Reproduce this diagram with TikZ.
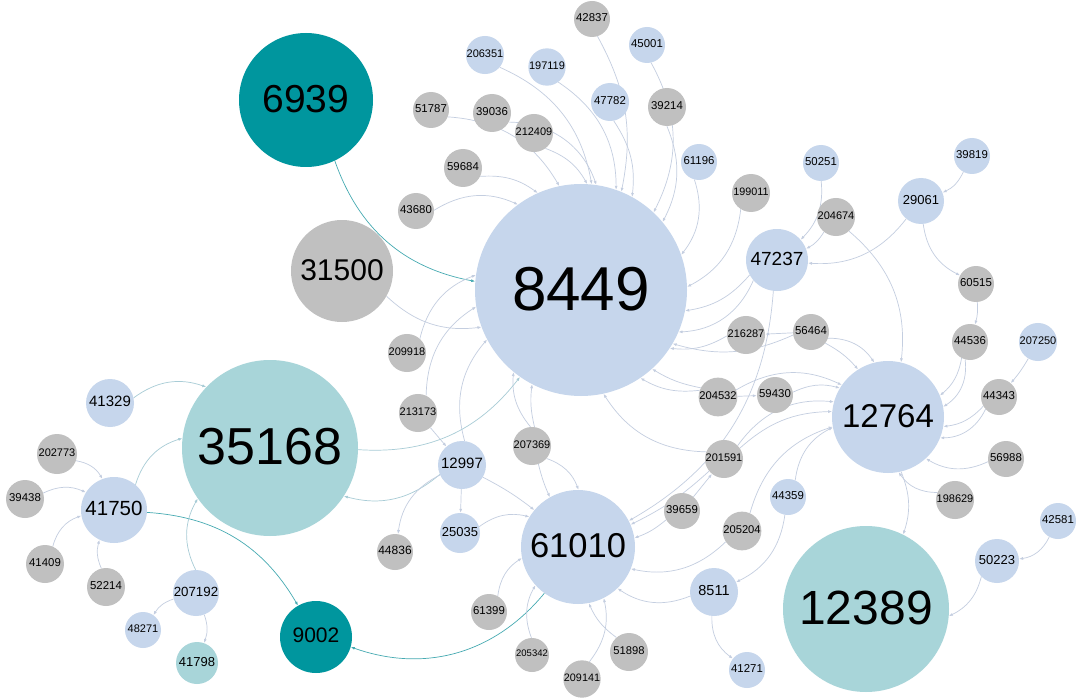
\documentclass[tikz,border=0pt]{standalone}
\usepackage{fontspec}
\setmainfont{Liberation Sans}
\usetikzlibrary{arrows.meta,backgrounds}
\newcommand\nfs[1]{\fontsize{#1}{#1}\selectfont}
\definecolor{cb}{RGB}{198,214,236}
\definecolor{cg}{RGB}{192,192,192}
\definecolor{clt}{RGB}{168,213,217}
\definecolor{cdt}{RGB}{0,150,158}
\definecolor{ec}{RGB}{196,206,224}
\definecolor{et}{RGB}{70,170,178}
\definecolor{el}{RGB}{168,204,214}
\tikzset{
  base/.style={circle, inner sep=0pt, text=black, text depth=0.28em, font=\nfs{11.4}},
  nB/.style={base, fill=cb},
  nG/.style={base, fill=cg},
  nLT/.style={base, fill=clt},
  nDT/.style={base, fill=cdt},
  ed/.style={draw=ec, line width=0.7pt, -{Latex[length=4pt,width=3pt]}},
  edt/.style={ed, draw=et},
  edl/.style={ed, draw=el},
}
\begin{document}
\begin{tikzpicture}[x=1pt,y=1pt]
\useasboundingbox (0,0) rectangle (1077,-698);
\node[nB, minimum size=212pt, font=\nfs{62}] (n8449) at (581,-290) {8449};
\node[nDT, minimum size=134pt, font=\nfs{39}] (n6939) at (306,-100) {6939};
\node[nG, minimum size=102pt, font=\nfs{30}] (n31500) at (342,-271) {31500};
\node[nLT, minimum size=176pt, font=\nfs{52}] (n35168) at (270,-448) {35168};
\node[nB, minimum size=66pt, font=\nfs{20.5}] (n41750) at (114,-510) {41750};
\node[nB, minimum size=48pt, font=\nfs{15}] (n41329) at (110,-403) {41329};
\node[nG, minimum size=40pt, font=\nfs{11}] (n202773) at (57,-454) {202773};
\node[nG, minimum size=38pt] (n39438) at (25,-499) {39438};
\node[nG, minimum size=38pt] (n41409) at (45,-564) {41409};
\node[nG, minimum size=38pt] (n52214) at (106,-587) {52214};
\node[nB, minimum size=44pt, font=\nfs{13.3}] (n207192) at (196,-593) {207192};
\node[nB, minimum size=36pt, font=\nfs{11}] (n48271) at (143,-630) {48271};
\node[nLT, minimum size=42pt, font=\nfs{13}] (n41798) at (197,-663) {41798};
\node[nDT, minimum size=72pt, font=\nfs{21}] (n9002) at (316,-637) {9002};
\node[nG, minimum size=38pt, font=\nfs{11}] (n213173) at (418,-413) {213173};
\node[nB, minimum size=48pt, font=\nfs{15}] (n12997) at (462,-465) {12997};
\node[nG, minimum size=38pt, font=\nfs{11}] (n207369) at (532,-446) {207369};
\node[nB, minimum size=40pt, font=\nfs{13}] (n25035) at (460,-533) {25035};
\node[nG, minimum size=36pt, font=\nfs{12}] (n44836) at (395,-552) {44836};
\node[nB, minimum size=114pt, font=\nfs{34.5}] (n61010) at (578,-547) {61010};
\node[nG, minimum size=36pt] (n39659) at (682,-511) {39659};
\node[nG, minimum size=36pt] (n61399) at (489,-612) {61399};
\node[nG, minimum size=34pt, font=\nfs{9.5}] (n205342) at (532,-655) {205342};
\node[nG, minimum size=36pt, font=\nfs{10.8}] (n209141) at (582,-679) {209141};
\node[nG, minimum size=38pt, font=\nfs{11.2}] (n51898) at (629,-652) {51898};
\node[nB, minimum size=48pt, font=\nfs{14.5}] (n8511) at (714,-592) {8511};
\node[nB, minimum size=36pt] (n41271) at (747,-670) {41271};
\node[nG, minimum size=36pt] (n42837) at (592,-19) {42837};
\node[nB, minimum size=38pt, font=\nfs{11}] (n206351) at (485,-55) {206351};
\node[nB, minimum size=36pt, font=\nfs{11}] (n197119) at (547,-67) {197119};
\node[nB, minimum size=36pt] (n45001) at (647,-45) {45001};
\node[nB, minimum size=38pt] (n47782) at (610,-102) {47782};
\node[nG, minimum size=38pt] (n39214) at (667,-107) {39214};
\node[nG, minimum size=36pt] (n51787) at (431,-110) {51787};
\node[nG, minimum size=38pt] (n39036) at (492,-113) {39036};
\node[nG, minimum size=38pt, font=\nfs{11}] (n212409) at (534,-133) {212409};
\node[nG, minimum size=38pt] (n59684) at (463,-168) {59684};
\node[nB, minimum size=36pt] (n61196) at (699,-162) {61196};
\node[nG, minimum size=36pt] (n43680) at (416,-211) {43680};
\node[nG, minimum size=38pt, font=\nfs{11}] (n209918) at (407,-353) {209918};
\node[nB, minimum size=36pt] (n50251) at (821,-163) {50251};
\node[nG, minimum size=38pt, font=\nfs{10.8}] (n199011) at (751,-193) {199011};
\node[nB, minimum size=36pt] (n39819) at (972,-156) {39819};
\node[nB, minimum size=46pt, font=\nfs{13}] (n29061) at (921,-201) {29061};
\node[nG, minimum size=36pt, font=\nfs{11}] (n204674) at (836,-217) {204674};
\node[nB, minimum size=62pt, font=\nfs{19}] (n47237) at (777,-260) {47237};
\node[nG, minimum size=36pt] (n60515) at (976,-284) {60515};
\node[nG, minimum size=36pt, font=\nfs{11}] (n216287) at (746,-335) {216287};
\node[nG, minimum size=36pt] (n56464) at (811,-332) {56464};
\node[nG, minimum size=36pt] (n44536) at (970,-342) {44536};
\node[nB, minimum size=36pt, font=\nfs{11}] (n207250) at (1038,-342) {207250};
\node[nG, minimum size=38pt, font=\nfs{11.2}] (n204532) at (718,-397) {204532};
\node[nG, minimum size=36pt] (n59430) at (775,-395) {59430};
\node[nB, minimum size=112pt, font=\nfs{33}] (n12764) at (888,-417) {12764};
\node[nG, minimum size=36pt] (n44343) at (999,-397) {44343};
\node[nG, minimum size=38pt, font=\nfs{11}] (n201591) at (724,-459) {201591};
\node[nG, minimum size=36pt] (n56988) at (1006,-459) {56988};
\node[nB, minimum size=36pt] (n44359) at (788,-497) {44359};
\node[nG, minimum size=36pt, font=\nfs{11}] (n198629) at (955,-500) {198629};
\node[nG, minimum size=38pt, font=\nfs{11.2}] (n205204) at (742,-531) {205204};
\node[nLT, minimum size=166pt, font=\nfs{48}] (n12389) at (866,-609) {12389};
\node[nB, minimum size=44pt, font=\nfs{13}] (n50223) at (997,-561) {50223};
\node[nB, minimum size=36pt] (n42581) at (1058,-521) {42581};

\begin{scope}[on background layer]
\fill[white] (0,0) rectangle (1077,-698);
\draw[edt] (n6939) to[bend right=30] (n8449);
\draw[ed] (n31500) to[bend right=25] (n8449);
\draw[ed] (n43680) to[bend left=28] (n8449);
\draw[ed] (n59684) to[bend left=20] (n8449);
\draw[ed] (n51787) to[bend left=28] (n8449);
\draw[ed] (n39036) to[bend left=35] (n8449);
\draw[ed] (n212409) to[bend left=20] (n8449);
\draw[ed] (n206351) to[bend left=28] (n8449);
\draw[ed] (n197119) to[bend left=28] (n8449);
\draw[ed] (n42837) to[bend left=20] (n8449);
\draw[ed] (n47782) to[bend left=20] (n8449);
\draw[ed] (n45001) to[bend left=28] (n8449);
\draw[ed] (n39214) to[bend left=25] (n8449);
\draw[ed] (n61196) to[bend left=28] (n8449);
\draw[ed] (n199011) to[bend left=28] (n8449);
\draw[ed] (n47237) to[bend left=20] (n8449);
\draw[ed] (n47237) to[bend left=32] (n8449);
\draw[ed] (n50251) to[bend left=25] (n47237);
\draw[ed] (n204674) to[bend left=15] (n47237);
\draw[ed] (n204674) to[bend left=28] (n12764);
\draw[ed] (n29061) to[bend left=28] (n47237);
\draw[ed] (n39819) to[bend left=20] (n29061);
\draw[ed] (n29061) to[bend right=28] (n60515);
\draw[ed] (n60515) to[bend left=10] (n44536);
\draw[ed] (n44536) to[bend left=20] (n12764);
\draw[ed] (n44536) to[bend left=32] (n12764);
\draw[ed] (n207250) to[bend left=5] (n44343);
\draw[ed] (n44343) to[bend left=20] (n12764);
\draw[ed] (n44343) to[bend left=32] (n12764);
\draw[ed] (n56988) to[bend left=28] (n12764);
\draw[ed] (n198629) to[bend left=28] (n12764);
\draw[ed] (n12764) to[bend left=20] (n12389);
\draw[ed] (n50223) to[bend left=25] (n12389);
\draw[ed] (n42581) to[bend left=28] (n50223);
\draw[ed] (n56464) to[bend left=28] (n12764);
\draw[ed] (n56464) to[bend left=10] (n12764);
\draw[ed] (n56464) to (n216287);
\draw[ed] (n216287) to[bend left=18] (n8449);
\draw[ed] (n56464) to[bend left=20] (n8449);
\draw[ed] (n204532) to[bend left=10] (n8449);
\draw[ed] (n204532) to[bend left=18] (n8449);
\draw[ed] (n204532) to[bend left=28] (n12764);
\draw[ed] (n204532) to (n59430);
\draw[ed] (n59430) to[bend left=20] (n12764);
\draw[ed] (n201591) to[bend left=28] (n8449);
\draw[ed] (n201591) to[bend left=20] (n12764);
\draw[ed] (n201591) to[bend left=30] (n12764);
\draw[ed] (n47237) to[bend left=28] (n61010);
\draw[ed] (n201591) to[bend left=8] (n61010);
\draw[ed] (n39659) to (n201591);
\draw[ed] (n39659) to[bend left=10] (n61010);
\draw[ed] (n205204) to[bend left=28] (n61010);
\draw[ed] (n205204) to[bend left=28] (n12764);
\draw[ed] (n44359) to[bend left=28] (n12764);
\draw[ed] (n44359) to[bend left=28] (n8511);
\draw[ed] (n8511) to[bend left=28] (n61010);
\draw[ed] (n8511) to[bend right=28] (n41271);
\draw[ed] (n207369) to[bend left=25] (n61010);
\draw[ed] (n207369) to[bend right=5] (n61010);
\draw[ed] (n207369) to[bend left=10] (n8449);
\draw[ed] (n207369) to[bend left=22] (n8449);
\draw[ed] (n12997) to[bend left=28] (n8449);
\draw[ed] (n213173) to[bend left=28] (n8449);
\draw[ed] (n213173) to (n12997);
\draw[ed] (n209918) to[bend left=28] (n8449);
\draw[edl] (n35168) to[bend right=28] (n8449);
\draw[edl] (n12997) to[bend left=28] (n35168);
\draw[ed] (n12997) to[bend right=28] (n44836);
\draw[ed] (n12997) to (n25035);
\draw[ed] (n12997) to[bend left=5] (n61010);
\draw[ed] (n25035) to[bend left=25] (n61010);
\draw[ed] (n61399) to[bend left=25] (n61010);
\draw[edt] (n61010) to[bend left=35] (n9002);
\draw[edt] (n41750) to[bend left=28] (n9002);
\draw[ed] (n205342) to[bend left=25] (n61010);
\draw[ed] (n209141) to[bend right=25] (n61010);
\draw[ed] (n51898) to[bend left=15] (n61010);
\draw[edl] (n41329) to[bend left=28] (n35168);
\draw[edl] (n41750) to[bend left=28] (n35168);
\draw[ed] (n202773) to[bend left=25] (n41750);
\draw[ed] (n39438) to[bend left=25] (n41750);
\draw[ed] (n41409) to[bend left=28] (n41750);
\draw[ed] (n52214) to[bend left=20] (n41750);
\draw[edl] (n207192) to[bend left=28] (n35168);
\draw[ed] (n207192) to[bend right=20] (n48271);
\draw[ed] (n207192) to[bend left=20] (n41798);
\end{scope}
\end{tikzpicture}
\end{document}
